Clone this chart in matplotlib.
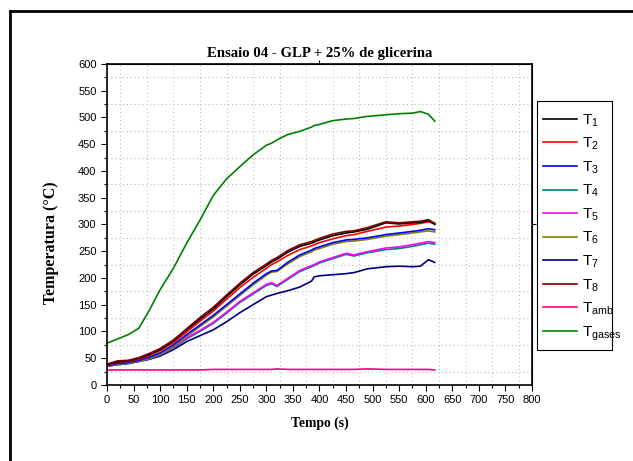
import matplotlib.pyplot as plt
import matplotlib.lines as mlines
import matplotlib.patches as mpatches
import numpy as np

# tempo (s) e temperaturas (°C)
tempo = [0, 20, 40, 60, 80, 100, 125, 150, 175, 200, 225, 250, 275, 300, 310,
         320, 340, 363, 385, 390, 400, 425, 450, 465, 490, 525, 550, 575, 590,
         605, 617]

T1 = [38, 43, 45, 50, 57, 66, 82, 103, 123, 142, 165, 187, 207, 223, 230,
      235, 248, 259, 265, 267, 271, 279, 284, 286, 291, 303, 301, 303, 304,
      307, 300]
T2 = [37, 42, 44, 48, 55, 64, 79, 99, 119, 138, 160, 182, 201, 218, 225,
      230, 242, 253, 260, 262, 266, 273, 279, 281, 287, 295, 297, 300, 302,
      305, 302]
T3 = [36, 40, 42, 46, 52, 60, 75, 94, 112, 130, 150, 170, 190, 208, 213,
      214, 229, 243, 252, 255, 258, 266, 271, 272, 275, 281, 284, 287, 289,
      292, 290]
T4 = [35, 38, 40, 44, 49, 56, 69, 86, 100, 115, 134, 154, 170, 186, 189,
      184, 197, 212, 221, 223, 228, 236, 244, 241, 247, 253, 255, 259, 262,
      265, 263]
T5 = [36, 39, 41, 45, 50, 57, 71, 88, 102, 117, 136, 156, 172, 188, 191,
      186, 199, 214, 223, 225, 230, 238, 246, 243, 249, 256, 258, 262, 265,
      268, 266]
T6 = [35, 39, 41, 45, 50, 58, 72, 91, 109, 127, 147, 167, 187, 205, 211,
      212, 226, 240, 249, 252, 255, 263, 268, 269, 272, 278, 281, 284, 286,
      288, 286]
T7 = [35, 38, 40, 44, 48, 54, 66, 81, 92, 103, 118, 135, 150, 165, 168,
      171, 176, 183, 194, 202, 204, 206, 208, 210, 217, 221, 222, 221, 222,
      234, 229]
T8 = [39, 45, 46, 51, 59, 68, 84, 105, 126, 145, 168, 190, 210, 226, 233,
      238, 251, 262, 268, 270, 274, 282, 287, 288, 294, 305, 303, 305, 306,
      309, 302]
Tamb = [28, 28, 28, 28, 28, 28, 28, 28, 28, 29, 29, 29, 29, 29, 29,
        30, 29, 29, 29, 29, 29, 29, 29, 29, 30, 29, 29, 29, 29,
        29, 28]
Tgases = [78, 86, 94, 106, 140, 178, 218, 265, 308, 354, 385, 408, 430, 448,
          452, 458, 468, 474, 482, 485, 487, 494, 497, 498, 502, 505, 507,
          508, 511, 506, 493]

series = [T1, T2, T3, T4, T5, T6, T7, T8, Tamb, Tgases]
labels = ['$\\mathregular{T_{1}}$', '$\\mathregular{T_{2}}$',
          '$\\mathregular{T_{3}}$', '$\\mathregular{T_{4}}$',
          '$\\mathregular{T_{5}}$', '$\\mathregular{T_{6}}$',
          '$\\mathregular{T_{7}}$', '$\\mathregular{T_{8}}$',
          '$\\mathregular{T_{amb}}$', '$\\mathregular{T_{gases}}$']
cores = ['#000000', '#ff0000', '#0000ff', '#008080', '#ff00ff', '#808000',
         '#000080', '#800000', '#ff0080', '#008000']

plt.rcParams['font.family'] = ['Liberation Sans', 'DejaVu Sans']
plt.rcParams['mathtext.fontset'] = 'custom'
plt.rcParams['mathtext.rm'] = 'Liberation Sans'

fig = plt.figure(figsize=(6.33, 4.61), dpi=100)
ax = fig.add_axes([0.169, 0.165, 0.6714, 0.6963])

# ordem de desenho: curvas escuras por cima
ordem = [9, 8, 6, 3, 4, 5, 2, 1, 0, 7]
handles = [None] * 10
for i in ordem:
    h, = ax.plot(tempo, series[i], color=cores[i], lw=1.2, label=labels[i])
    handles[i] = h

ax.set_xlim(0, 800)
ax.set_ylim(0, 600)
ax.set_xticks(np.arange(0, 801, 50))
ax.set_xticks(np.arange(25, 800, 50), minor=True)
ax.set_yticks(np.arange(0, 601, 50))
ax.set_yticks(np.arange(25, 600, 50), minor=True)
ax.tick_params(which='both', direction='out', labelsize=8, width=0.8)
ax.tick_params(which='major', length=4)
ax.tick_params(which='minor', length=2.5)
ax.grid(which='minor', color='#b0b0b0', linestyle=(0, (1, 3)), lw=0.7)
for s in ax.spines.values():
    s.set_linewidth(1.2)

# marcas soltas nos eixos de cima e da direita
top = ax.secondary_xaxis('top')
top.set_xticks([400])
top.tick_params(direction='out', length=3, width=0.8, labeltop=False)
right = ax.secondary_yaxis('right')
right.set_yticks([300])
right.tick_params(direction='out', length=3, width=0.8, labelright=False)

serif = {'family': 'Liberation Serif', 'weight': 'bold'}
ax.set_title("Ensaio 04 - GLP + 25% de glicerina", fontdict=serif,
             fontsize=10.6, pad=5)
ax.set_xlabel("Tempo (s)", fontdict=serif, fontsize=9.8, labelpad=8)
ax.set_ylabel("Temperatura (°C)", fontdict=serif, fontsize=11.5)
ax.yaxis.set_label_coords(-0.112, 0.442)

leg = fig.legend(handles=handles, loc='upper left',
                 bbox_to_anchor=(537 / 633, 1 - 106 / 461),
                 fontsize=11, frameon=False,
                 handlelength=2.2, handletextpad=0.35, labelspacing=0.47,
                 borderpad=0.4, borderaxespad=0)

fig.add_artist(mpatches.Rectangle((537 / 633, 1 - 350 / 461), 75 / 633,
                                  249 / 461, fill=False, edgecolor='black',
                                  lw=0.8, transform=fig.transFigure))

# moldura externa
fig.add_artist(mlines.Line2D([10 / 633, 10 / 633], [0, 1 - 11 / 461],
                             color='black', lw=2))
fig.add_artist(mlines.Line2D([10 / 633, 1], [1 - 11 / 461, 1 - 11 / 461],
                             color='black', lw=2))

fig.savefig("out.png", dpi=100)
